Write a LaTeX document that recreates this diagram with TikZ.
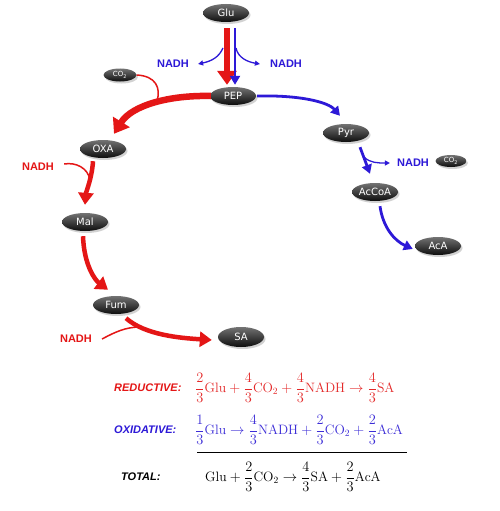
\documentclass[tikz,border=0pt]{standalone}
\usepackage{fontspec}
\usepackage{amsmath}
\newfontfamily\labf{Liberation Sans}
\newfontfamily\metf{DejaVu Sans}
\usetikzlibrary{arrows.meta,shapes.geometric,shadows}
\definecolor{rd}{RGB}{228,22,22}
\definecolor{bl}{RGB}{45,25,215}
\definecolor{eqr}{RGB}{228,40,40}
\definecolor{eqb}{RGB}{60,45,215}
\tikzset{
  met/.style={ellipse, minimum width=46pt, minimum height=18pt, inner sep=0pt,
    top color=black!55, bottom color=black!95, text=white,
    font=\metf\fontsize{10}{11}\selectfont,
    drop shadow={opacity=0.35, shadow xshift=1.5pt, shadow yshift=-2pt}},
  smallmet/.style={met, minimum width=33pt, minimum height=13pt, font=\metf\fontsize{7}{8}\selectfont},
  redbig/.style={draw=rd, line width=6.5pt, -{Triangle[length=14pt,width=19pt]}},
  redmid/.style={draw=rd, line width=4.5pt, -{Triangle[length=12pt,width=15pt]}},
  redthin/.style={draw=rd, line width=1.5pt},
  bluemain/.style={draw=bl, line width=2.8pt, -{Triangle[length=9pt,width=10pt]}},
  bluethin/.style={draw=bl, line width=1.3pt, -{Triangle[length=5pt,width=5pt]}},
  nadhr/.style={text=rd, font=\labf\bfseries\fontsize{11}{12}\selectfont, inner sep=1pt},
  nadhb/.style={text=bl, font=\labf\bfseries\fontsize{11}{12}\selectfont, inner sep=1pt},
  eqlab/.style={anchor=west, inner sep=0pt, font=\labf\bfseries\itshape\fontsize{11}{13}\selectfont},
  eqn/.style={anchor=west, inner sep=0pt, font=\fontsize{13.6}{16}\selectfont}
}
\begin{document}
\begin{tikzpicture}[x=1pt,y=-1pt]
\useasboundingbox[fill=white] (0,0) rectangle (500,511);
% metabolites
\node[met] (Glu) at (226,13) {Glu};
\node[met] (PEP) at (233,96) {PEP};
\node[met] (OXA) at (103,149) {OXA};
\node[met] (Mal) at (85,222) {Mal};
\node[met] (Fum) at (116,305) {Fum};
\node[met, minimum height=20pt] (SA) at (241,337) {SA};
\node[met] (Pyr) at (346,133) {Pyr};
\node[met] (AcCoA) at (375,192) {AcCoA};
\node[met] (AcA) at (438,246) {AcA};
\node[smallmet] (CO2a) at (120,75) {CO\textsubscript{2}};
\node[smallmet, minimum width=31pt, minimum height=12pt] (CO2b) at (451,161) {CO\textsubscript{2}};
% NADH labels
\node[nadhb] (NADHbl) at (173,64) {NADH};
\node[nadhb] (NADHbr) at (286,64) {NADH};
\node[nadhr] (NADHr1) at (38,167) {NADH};
\node[nadhr] (NADHr2) at (76,339) {NADH};
\node[nadhb] (NADHb3) at (413,163) {NADH};
% Glu -> PEP
\draw[redbig] ([xshift=1pt,yshift=-6pt]Glu.south) -- ([xshift=-6pt,yshift=2pt]PEP.north);
\draw[bluemain] ([xshift=9pt,yshift=-6pt]Glu.south) -- ([xshift=2pt,yshift=2pt]PEP.north);
\coordinate (bl1) at (223,48);
\coordinate (bl2) at (236,48);
\draw[bluethin] (bl1) .. controls (219,57) and (212,61) .. ([xshift=8pt]NADHbl.east);
\draw[bluethin] (bl2) .. controls (238,58) and (248,62) .. ([xshift=-9pt]NADHbr.west);
% reductive branch
\draw[redbig] ([xshift=1pt]PEP.west) .. controls (170,95) and (132,105) .. ([xshift=11pt,yshift=6pt]OXA.north);
\coordinate (j1) at (157,101);
\draw[redthin] (CO2a.east) .. controls (156,76) and (161,88) .. (j1);
\draw[redmid] ([xshift=-10pt,yshift=-3pt]OXA.south) .. controls (92,178) and (86,192) .. ([yshift=8pt]Mal.north);
\coordinate (j2) at (90,180);
\draw[redthin] ([xshift=9pt,yshift=3pt]NADHr1.east) .. controls (76,162) and (88,168) .. (j2);
\draw[redmid] ([xshift=-2pt,yshift=-5pt]Mal.south) .. controls (84,265) and (95,280) .. ([xshift=-8pt,yshift=6pt]Fum.north);
\draw[redmid] ([xshift=10pt,yshift=-4pt]Fum.south) .. controls (145,335) and (180,338) .. ([xshift=-6pt,yshift=-3pt]SA.west);
\coordinate (j3) at (140,327);
\draw[redthin] ([xshift=9pt]NADHr2.east) .. controls (115,332) and (126,327) .. (j3);
% oxidative branch
\draw[bluemain] ([xshift=1pt]PEP.east) .. controls (300,95) and (328,102) .. ([xshift=-6pt,yshift=8pt]Pyr.north);
\draw[bluemain] ([xshift=14pt,yshift=-5pt]Pyr.south) -- ([xshift=-5pt,yshift=9pt]AcCoA.north);
\coordinate (j4) at (364,157);
\draw[bluethin] (j4) .. controls (370,163) and (378,163) .. ([xshift=-6pt]NADHb3.west);
\draw[bluemain] ([xshift=5pt,yshift=-5pt]AcCoA.south) .. controls (383,228) and (395,241) .. ([xshift=-2pt,yshift=-3pt]AcA.west);
% equations
\node[eqlab, text=rd] (redl) at (114,388) {REDUCTIVE:};
\node[eqlab, text=bl] (oxl) at (114,430) {OXIDATIVE:};
\node[eqlab, text=black] (totl) at (121,477) {TOTAL:};
\node[eqn, text=eqr] (eqred) at (195,388) {$\dfrac{2}{3}\mathrm{Glu}+\dfrac{4}{3}\mathrm{CO_2}+\dfrac{4}{3}\mathrm{NADH}\rightarrow\dfrac{4}{3}\mathrm{SA}$};
\node[eqn, text=eqb] (eqox) at (195,430) {$\dfrac{1}{3}\mathrm{Glu}\rightarrow\dfrac{4}{3}\mathrm{NADH}+\dfrac{2}{3}\mathrm{CO_2}+\dfrac{2}{3}\mathrm{AcA}$};
\draw[line width=0.8pt] (197,452) -- (407,452);
\node[eqn, text=black] (eqtot) at (205,477) {$\mathrm{Glu}+\dfrac{2}{3}\mathrm{CO_2}\rightarrow\dfrac{4}{3}\mathrm{SA}+\dfrac{2}{3}\mathrm{AcA}$};
\end{tikzpicture}
\end{document}
